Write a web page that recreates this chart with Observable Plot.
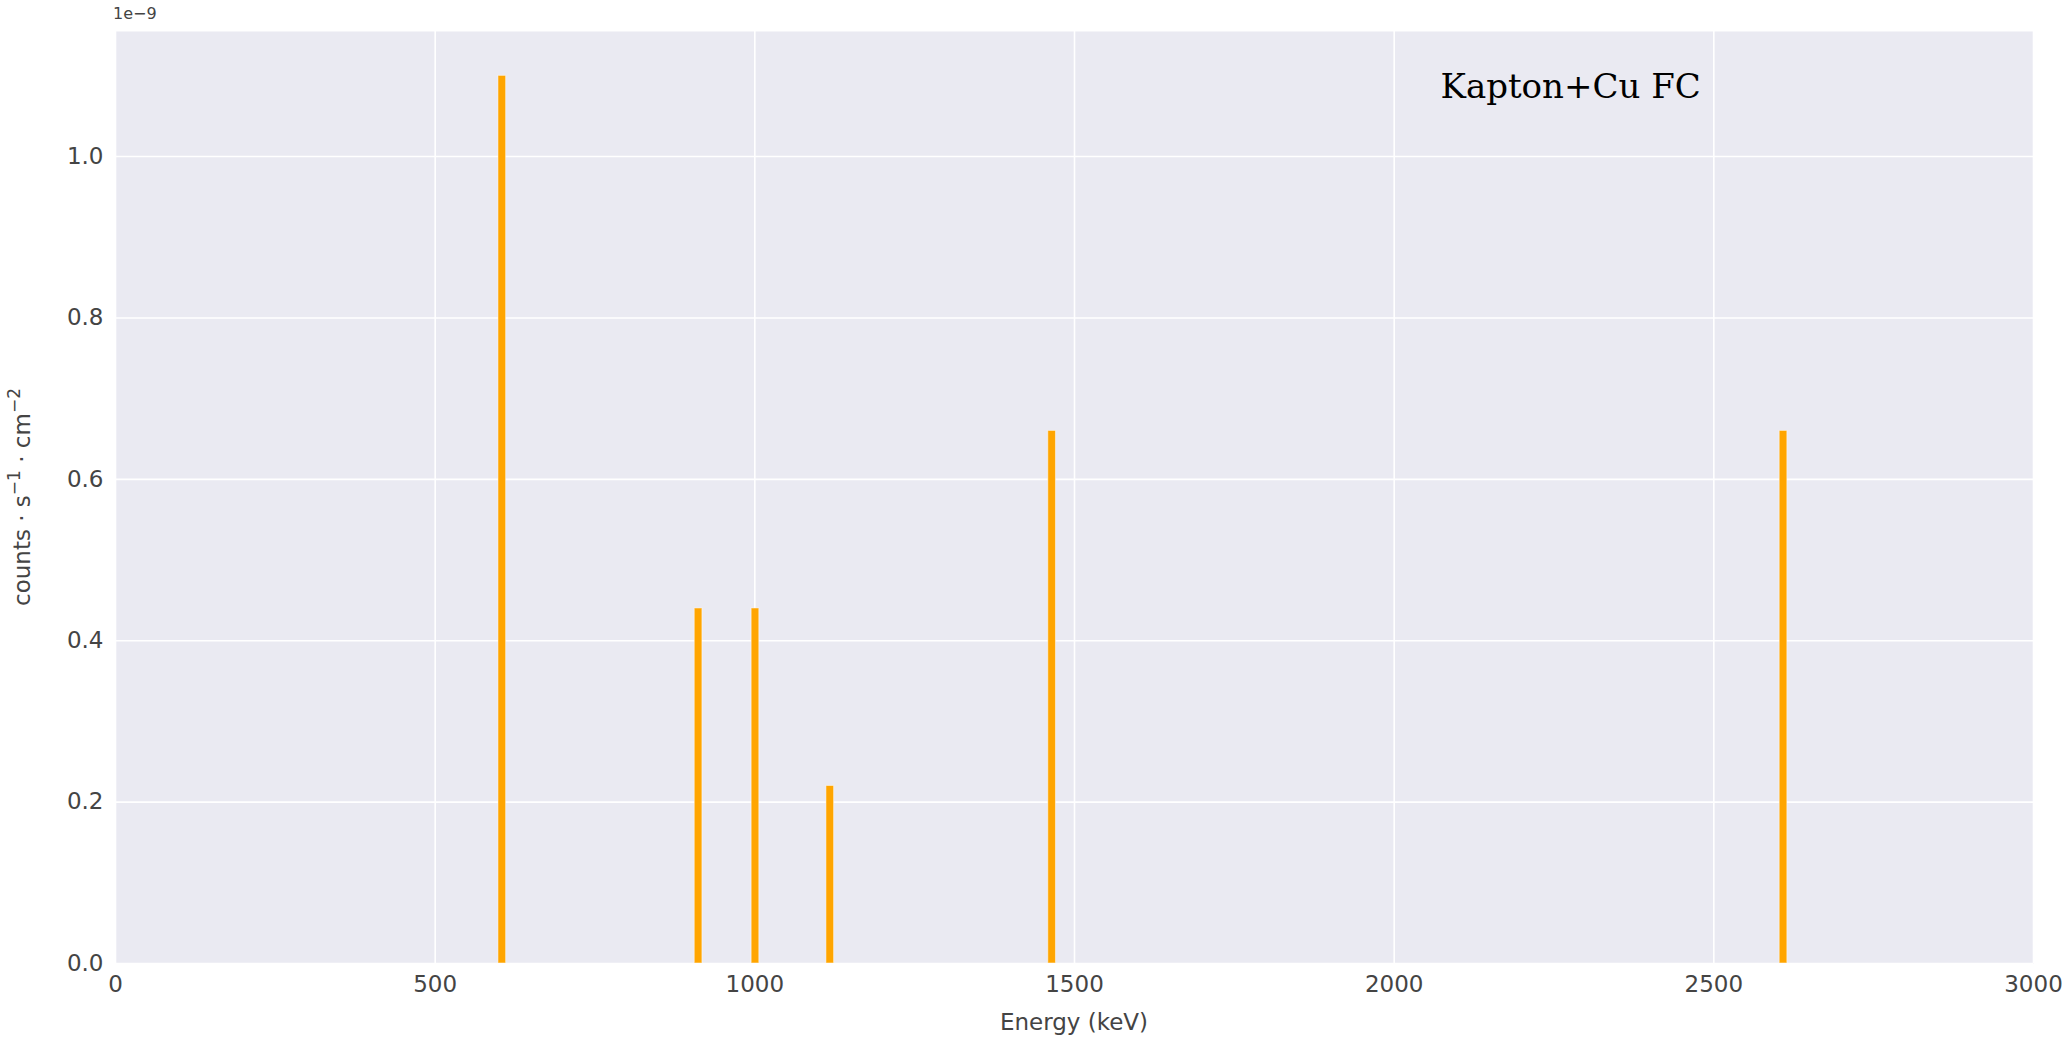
<!DOCTYPE html>
<html>
<head>
<meta charset="utf-8">
<script src="https://cdn.jsdelivr.net/npm/d3@7"></script>
<script src="https://cdn.jsdelivr.net/npm/@observablehq/plot@0.6"></script>
<style>
  html, body { margin: 0; padding: 0; background: #ffffff; }
  #chart { position: relative; width: 2070px; height: 1044px; }
  #offset { position: absolute; left: 113px; top: 4px; font: 16px "DejaVu Sans"; color: #444; }
</style>
</head>
<body>
<div id="chart"><div id="offset">1e−9</div></div>
<script>
// Gamma-line energies (keV) and fluxes (in units of 1e-9 counts·s⁻¹·cm⁻²)
const energies = [605, 912, 1001, 1118, 1465, 2609];
const fluxes = [1.10, 0.44, 0.44, 0.22, 0.66, 0.66];
const xTicks = [0, 500, 1000, 1500, 2000, 2500, 3000];
const yTicks = [0.0, 0.2, 0.4, 0.6, 0.8, 1.0];
const annotation = "Kapton+Cu FC";

const data = energies.map((e, i) => ({energy: e, flux: fluxes[i]}));
const halfWidth = 6;

const plot = Plot.plot({
  width: 2070,
  height: 1044,
  marginLeft: 115,
  marginRight: 37,
  marginTop: 31,
  marginBottom: 81,
  style: {fontFamily: "DejaVu Sans", fontSize: "23px", color: "#444", background: "transparent"},
  x: {domain: [0, 3000]},
  y: {domain: [0, 1.155]},
  marks: [
    Plot.frame({fill: "#EAEAF2", stroke: null}),
    Plot.gridX(xTicks, {stroke: "#ffffff", strokeOpacity: 1, strokeWidth: 1.6}),
    Plot.gridY(yTicks, {stroke: "#ffffff", strokeOpacity: 1, strokeWidth: 1.6}),
    Plot.rect(data, {
      x1: d => d.energy - halfWidth,
      x2: d => d.energy + halfWidth,
      y1: 0,
      y2: "flux",
      fill: "#FFA500",
      stroke: "#ffffff",
      strokeWidth: 1,
      strokeOpacity: 0.5
    }),
    Plot.axisX(xTicks, {tickSize: 0, tickPadding: 12, label: null, tickFormat: d => String(d)}),
    Plot.axisY(yTicks, {tickSize: 0, tickPadding: 12, label: null, tickFormat: d => d.toFixed(1)}),
    Plot.text([annotation], {
      frameAnchor: "top-right",
      textAnchor: "start",
      dx: -593,
      dy: 42,
      fontFamily: "DejaVu Serif",
      fontSize: 34,
      fill: "#000"
    })
  ]
});

const svg = d3.select(plot);
svg.append("text")
  .attr("x", 115 + (2070 - 115 - 37) / 2)
  .attr("y", 1030)
  .attr("text-anchor", "middle")
  .attr("fill", "#444")
  .attr("font-family", "DejaVu Sans")
  .attr("font-size", 23)
  .text("Energy (keV)");
const yl = svg.append("text")
  .attr("transform", `translate(30, ${31 + (1044 - 31 - 81) / 2}) rotate(-90)`)
  .attr("text-anchor", "middle")
  .attr("fill", "#444")
  .attr("font-family", "DejaVu Sans")
  .attr("font-size", 23);
yl.append("tspan").text("counts · s");
yl.append("tspan").attr("font-size", 17).attr("dy", -10).text("−1");
yl.append("tspan").attr("dy", 10).text(" · cm");
yl.append("tspan").attr("font-size", 17).attr("dy", -10).text("−2");

document.getElementById("chart").prepend(plot);
</script>
</body>
</html>
